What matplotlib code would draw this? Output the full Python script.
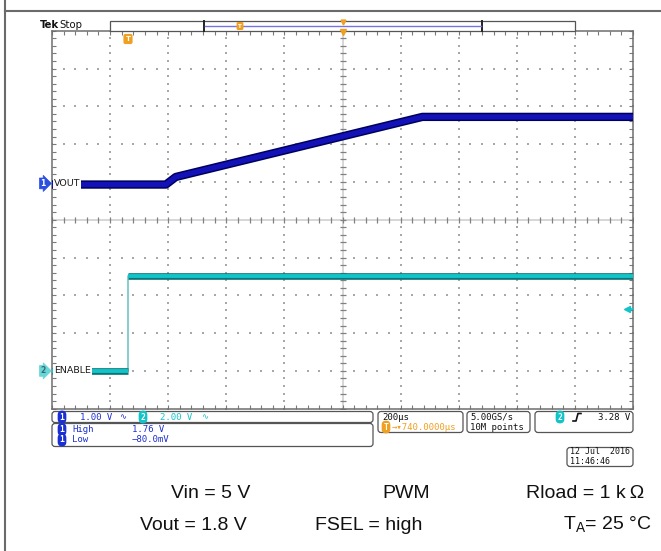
import numpy as np
import matplotlib
matplotlib.use("Agg")
import matplotlib.pyplot as plt

# channel 1: VOUT (1.00 V/div), channel 2: ENABLE (2.00 V/div); time in us after trigger
t_vout = [-260, 132, 166, 1015, 1740]
v_vout = [-0.03, -0.03, 0.17, 1.76, 1.76]
t_en = [-260, 0, 0, 1740]
v_en = [0.0, 0.0, 5.0, 5.0]

ch1_scale, ch1_offset = 1.00, 0.96     # V/div, div
ch2_scale, ch2_offset = 2.00, -4.0
trig_level = 3.28
time_per_div = 200
t_center = 740

status_ch = ["1.00 V", "2.00 V"]
meas_names = ["High", "Low"]
meas_values = ["1.76 V", "\u221280.0mV"]
notes_row1 = ["Vin = 5 V", "PWM", "Rload = 1 k\u2009\u03a9"]
notes_row2 = ["Vout = 1.8 V", "FSEL = high", "T$_\\mathregular{A}$= 25 \u00b0C"]

C1 = "#1c2fd0"
C2 = "#12c4c8"
ORANGE = "#f0a020"
GRID = "#a8a8a8"
MONO = ["DejaVu Sans Mono", "DejaVu Sans"]
FS = 6.5

W, H = 661, 551
fig = plt.figure(figsize=(W / 100, H / 100), dpi=100)

# overlay in pixel coordinates for the scope screen furniture
ov = fig.add_axes([0, 0, 1, 1], zorder=3)
ov.set_xlim(0, W)
ov.set_ylim(H, 0)
ov.axis("off")
ov.patch.set_alpha(0)

# graticule axes
gl, gr, gt, gb = 52, 633, 30.7, 408.7
ax = fig.add_axes([gl / W, 1 - gb / H, (gr - gl) / W, (gb - gt) / H], zorder=2)
x0 = t_center - 5 * time_per_div
x1 = t_center + 5 * time_per_div
ax.set_xlim(x0, x1)
ax.set_ylim(-5, 5)
ax.set_xticks(np.arange(x0, x1 + 1, time_per_div))
ax.set_xticks(np.arange(x0, x1 + 1, time_per_div / 5), minor=True)
ax.set_yticks(np.arange(-5, 6, 1))
ax.set_yticks(np.arange(-5, 5.01, 0.2), minor=True)
ax.tick_params(which="both", direction="in", length=3, width=0.8, color="#7a7a7a",
               top=True, right=True, labelbottom=False, labelleft=False)
for s in ax.spines.values():
    s.set_color("#6e6e6e")
    s.set_linewidth(1.1)

# dotted grid
xs_fine = np.arange(x0, x1 + 1, time_per_div / 5)
ys_fine = np.arange(-5, 5.01, 0.2)
for i in range(1, 10):
    if i == 5:
        continue
    xv = x0 + i * time_per_div
    ax.scatter(np.full(len(ys_fine), xv), ys_fine, s=0.9, marker="s", c=GRID, linewidths=0, zorder=1)
    yv = -5 + i
    ax.scatter(xs_fine, np.full(len(xs_fine), yv), s=0.9, marker="s", c=GRID, linewidths=0, zorder=1)

# center crosshair with ticks
ax.axvline(t_center, color="#d6d6d6", lw=1.4, zorder=1)
ax.axhline(0, color="#d6d6d6", lw=1.4, zorder=1)
ax.plot(np.full(len(ys_fine), t_center), ys_fine, ls="none", marker="_", ms=5, mew=0.9, color="#808080", zorder=1)
ax.plot(xs_fine, np.zeros(len(xs_fine)), ls="none", marker="|", ms=5, mew=0.9, color="#808080", zorder=1)

# VOUT trace
y1 = np.array(v_vout) / ch1_scale + ch1_offset
ax.plot(t_vout, y1, color="#00005c", lw=6.0, solid_capstyle="butt", solid_joinstyle="round", zorder=4)
ax.plot(t_vout, y1, color="#1212b8", lw=3.8, solid_capstyle="butt", solid_joinstyle="round", zorder=5)

# ENABLE trace: thin edge, thick flat parts
y2 = np.array(v_en) / ch2_scale + ch2_offset
ax.plot(t_en, y2, color="#7ccaca", lw=1.3, zorder=4)
for k in range(len(t_en) - 1):
    if t_en[k] != t_en[k + 1]:
        seg_t = [t_en[k], t_en[k + 1]]
        seg_y = [y2[k], y2[k + 1]]
        ax.plot(seg_t, seg_y, color="#0a7479", lw=4.8, solid_capstyle="butt", zorder=4)
        ax.plot(seg_t, seg_y, color=C2, lw=2.8, solid_capstyle="butt", zorder=5)

# trigger level marker on right edge
lvl = trig_level / ch2_scale + ch2_offset
ax.plot([x1 - 20, x1], [lvl, lvl], color=C2, lw=1.2, clip_on=False, zorder=6)
ax.plot([x1 - 22], [lvl], marker="<", ms=4, color=C2, clip_on=False, zorder=6)

# channel labels
def to_px(yd):
    return gb - (yd + 5) / 10 * (gb - gt)

for lab, yd, fc, tc in [("VOUT", ch1_offset, "#2b4fe0", "white"),
                        ("ENABLE", ch2_offset, "#66d6d8", "#3a6a6a")]:
    yp = to_px(yd)
    ov.text(54, yp, lab, fontsize=6.8, va="center", ha="left", color="#1a1a1a",
            bbox=dict(fc="white", ec="none", pad=0.6))
    ov.text(43, yp, ("1" if lab == "VOUT" else "2"), fontsize=5.5, va="center", ha="center",
            color=tc, fontweight="bold",
            bbox=dict(boxstyle="rarrow,pad=0.12", fc=fc, ec=fc, lw=0.5))

# outer frame of the figure cell
ov.plot([5, W], [11, 11], color="#6a6a6a", lw=1.5)
ov.plot([5, 5], [0, H], color="#6a6a6a", lw=1.5)

# header
ov.text(40, 27.5, "Tek", fontsize=7.3, fontweight="bold", va="baseline", color="#111111")
ov.text(59, 27.5, "Stop", fontsize=7.3, va="baseline", color="#111111")
ov.add_patch(plt.Rectangle((110, 21), 465, 9.5, fc="white", ec="#555555", lw=0.9))
ov.plot([204, 204], [21, 30.5], color="#222222", lw=1.4)
ov.plot([482, 482], [21, 30.5], color="#222222", lw=1.4)
ov.plot([205, 481], [25.5, 25.5], color="#7373e6", lw=1.0)
ov.text(240, 26, "T", fontsize=4, ha="center", va="center", color="white", fontweight="bold",
        bbox=dict(boxstyle="round,pad=0.15", fc=ORANGE, ec=ORANGE))
ov.plot([343], [21.5], marker="v", ms=3.5, color=ORANGE)
ov.plot([343], [32], marker="v", ms=5, color=ORANGE)
ov.text(128, 39, "T", fontsize=5, ha="center", va="center", color="white", fontweight="bold",
        bbox=dict(boxstyle="round,pad=0.2", fc=ORANGE, ec=ORANGE))

# status boxes
def box(xa, ya, xb, yb):
    ov.add_patch(matplotlib.patches.FancyBboxPatch((xa, ya), xb - xa, yb - ya,
                 boxstyle="round,pad=0,rounding_size=3", fc="white", ec="#555555", lw=0.9))

def badge(x, y, s, fc, tc="white"):
    ov.text(x, y, s, fontsize=5.8, ha="center", va="center", color=tc, fontweight="bold",
            family=MONO, bbox=dict(boxstyle="round,pad=0.15,rounding_size=0.45", fc=fc, ec=fc))

box(52, 411.5, 373, 422.5)
box(52, 423.5, 373, 446.5)
box(378, 411.5, 463, 432.5)
box(467, 411.5, 530, 432.5)
box(535, 411.5, 633, 432.5)
box(567, 447.5, 633, 466.5)

badge(62, 417, "1", C1)
ov.text(80, 417, status_ch[0], fontsize=FS, family=MONO, color=C1, va="center")
ov.text(123, 417, "\u223f", fontsize=6, family=MONO, color=C1, va="center", ha="center")
badge(143, 417, "2", C2)
ov.text(160, 417, status_ch[1], fontsize=FS, family=MONO, color=C2, va="center")
ov.text(205, 417, "\u223f", fontsize=6, family=MONO, color=C2, va="center", ha="center")

for k, (nm, val) in enumerate(zip(meas_names, meas_values)):
    yy = 429.5 + k * 10.5
    badge(62, yy, "1", C1)
    ov.text(72, yy, nm, fontsize=FS, family=MONO, color=C1, va="center")
    ov.text(132, yy, val, fontsize=FS, family=MONO, color=C1, va="center")

ov.text(382, 417, "200\u00b5s", fontsize=FS, family=MONO, color="#111111", va="center")
badge(386, 427, "T", ORANGE)
ov.text(392, 427, "\u2192\u25be740.0000\u00b5s", fontsize=FS, family=MONO, color=ORANGE, va="center")
ov.text(470, 417, "5.00GS/s", fontsize=FS, family=MONO, color="#111111", va="center")
ov.text(470, 427, "10M points", fontsize=FS, family=MONO, color="#111111", va="center")
badge(560, 417, "2", C2)
ov.plot([573, 576, 578, 581], [421, 421, 413.5, 413.5], color="#111111", lw=1.2)
ov.text(630, 417, "3.28 V", fontsize=FS, family=MONO, color="#111111", va="center", ha="right")
ov.text(570, 452, "12 Jul  2016", fontsize=6.0, family=MONO, color="#111111", va="center")
ov.text(570, 461.5, "11:46:46", fontsize=6.0, family=MONO, color="#111111", va="center")

# test conditions
for txt, xp in zip(notes_row1, [171, 382, 526]):
    ov.text(xp, 493, txt, fontsize=14, family="Liberation Sans", color="#111111", va="center")
for txt, xp in zip(notes_row2, [140, 315, 563]):
    ov.text(xp, 525, txt, fontsize=14, family="Liberation Sans", color="#111111", va="center")

fig.savefig("out.png", dpi=100)
